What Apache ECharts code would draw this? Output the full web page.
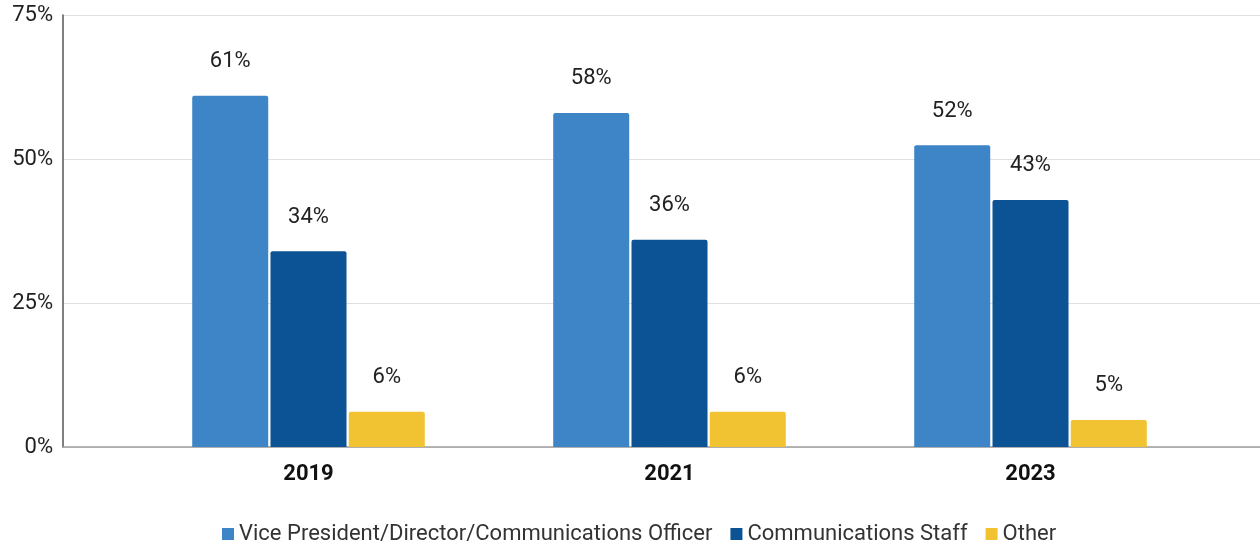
<!DOCTYPE html>
<html><head><meta charset="utf-8">
<script src="https://cdn.jsdelivr.net/npm/echarts@6/dist/echarts.min.js"></script>
<style>html,body{margin:0;padding:0;background:#fff}#c{width:1260px;height:544px}</style>
</head><body><div id="c"></div>
<script>
const categories = ['2019', '2021', '2023'];
const seriesNames = ['Vice President/Director/Communications Officer', 'Communications Staff', 'Other'];
const vpValues = [61, 58, 52.4];
const staffValues = [34, 36, 42.9];
const otherValues = [6.1, 6.1, 4.7];
const yTicks = [0, 25, 50, 75];
const colors = ['#3d85c6', '#0b5394', '#f1c232'];

const chart = echarts.init(document.getElementById('c'), null, {renderer: 'canvas'});
const font = 'Roboto';
function barSeries(name, data, color) {
  return {
    name, type: 'bar', data, xAxisIndex: 0, yAxisIndex: 0,
    barWidth: 76, barGap: '3%',
    itemStyle: {color, borderRadius: [2, 2, 0, 0]},
    label: {show: true, position: 'top', distance: 23, fontFamily: font, fontSize: 22, color: '#222',
      formatter: p => Math.round(p.value) + '%'}
  };
}
chart.setOption({
  animation: false,
  textStyle: {fontFamily: font},
  grid: [
    {left: 128, right: 49, top: 15, bottom: 97},
    {left: 63, right: 0, top: 15, bottom: 97}
  ],
  xAxis: [
    {type: 'category', gridIndex: 0, data: categories, axisLine: {show: false}, axisTick: {show: false},
      axisLabel: {fontFamily: font, fontSize: 22, fontWeight: 'bold', color: '#111', margin: 16}},
    {type: 'category', gridIndex: 1, data: [''], axisLine: {show: true, lineStyle: {color: '#9e9e9e', width: 1.5}},
      axisTick: {show: false}, axisLabel: {show: false}}
  ],
  yAxis: [
    {type: 'value', gridIndex: 0, min: yTicks[0], max: yTicks[yTicks.length - 1], interval: 25,
      axisLabel: {show: false}, splitLine: {show: false}, axisLine: {show: false}},
    {type: 'value', gridIndex: 1, min: yTicks[0], max: yTicks[yTicks.length - 1], interval: 25,
      axisLine: {show: true, lineStyle: {color: '#555', width: 1.5}}, axisTick: {show: false},
      splitLine: {lineStyle: {color: '#e0e0e0', width: 1}},
      axisLabel: {fontFamily: font, fontSize: 22, color: '#222', margin: 10, formatter: v => v + '%'}}
  ],
  legend: {
    data: seriesNames, top: 523, left: 222, padding: 0, icon: 'rect', itemWidth: 12, itemHeight: 12, itemGap: 18,
    itemStyle: {borderWidth: 0},
    textStyle: {fontFamily: font, fontSize: 22, color: '#333'}
  },
  series: [
    barSeries(seriesNames[0], vpValues, colors[0]),
    barSeries(seriesNames[1], staffValues, colors[1]),
    barSeries(seriesNames[2], otherValues, colors[2])
  ]
});
</script></body></html>
